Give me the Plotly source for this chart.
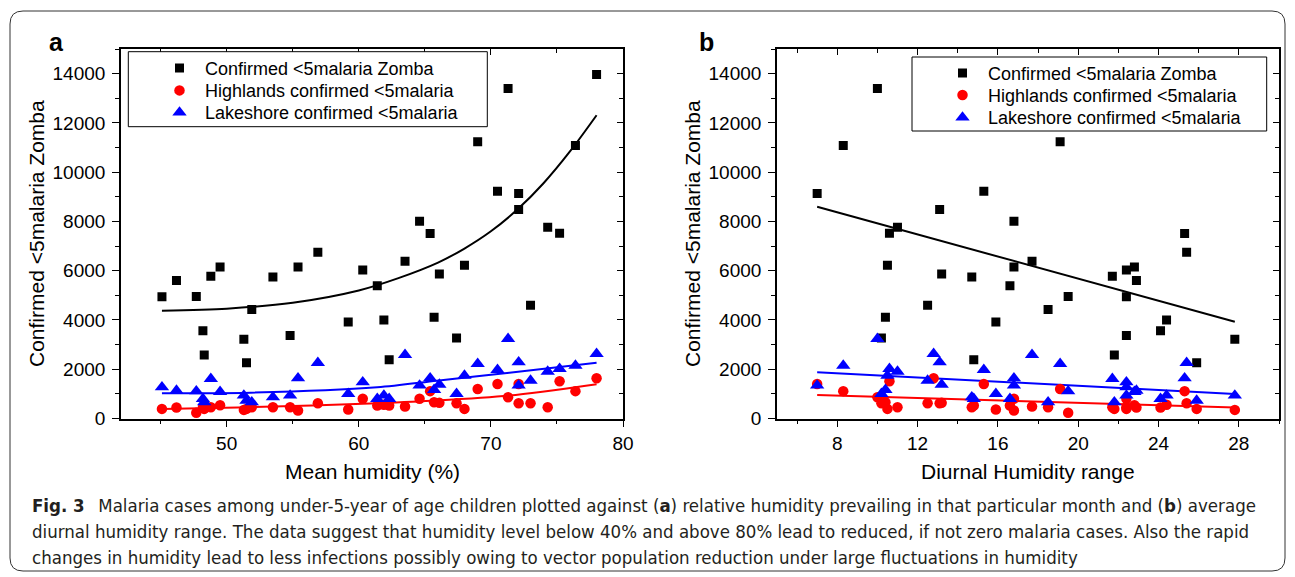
import plotly.graph_objects as go

W, H = 1295, 577

# ---------------- data ----------------
mean_humidity = [45.1, 46.2, 47.7, 48.2, 48.3, 48.8, 49.5, 51.3, 51.5, 51.9, 53.5, 54.8,
                 55.4, 56.9, 59.2, 60.3, 61.4, 61.9, 62.3, 63.5, 64.6, 65.4, 65.7, 66.1,
                 67.4, 68.0, 69.0, 70.5, 71.3, 72.1, 72.1, 73.0, 74.3, 75.2, 76.4, 78.0]
diurnal_range = [22.4, 22.9, 19.5, 24.1, 21.8, 21.7, 22.8, 27.8, 25.9, 18.5, 14.7, 22.4,
                 16.8, 25.4, 15.9, 22.4, 16.6, 24.4, 14.8, 17.7, 16.8, 25.3, 10.4, 13.2,
                 10.2, 10.5, 19.1, 15.3, 10.0, 7.0, 13.1, 12.5, 11.0, 10.6, 8.3, 12.8]
zomba = [4940, 5600, 4950, 3560, 2580, 5775, 6155, 3220, 2260, 4420, 5740, 3370,
         6155, 6750, 3920, 6030, 5385, 4000, 2380, 6385, 8010, 7510, 4110, 5870,
         3270, 6220, 11230, 9225, 13400, 9130, 8480, 4600, 7765, 7520, 11080, 13960]
highlands = [390, 445, 230, 450, 390, 460, 540, 350, 390, 460, 460, 460,
             325, 620, 365, 800, 530, 560, 530, 485, 800, 1110, 660, 635,
             620, 390, 1200, 1400, 865, 1400, 620, 620, 460, 1510, 1110, 1635]
lakeshore = [1270, 1135, 1110, 800, 660, 1610, 1085, 935, 730, 660, 865, 935,
             1635, 2260, 1000, 1475, 800, 935, 800, 2585, 1340, 1635, 1165, 1380,
             1000, 1745, 2220, 1975, 3235, 1340, 2285, 1540, 1905, 2015, 2150, 2625]

# fitted curves, panel a
fit_a_x = [45.1, 50, 55, 60, 63, 66, 68, 70, 72, 74, 76, 78]
fit_a_zomba = [4375, 4460, 4700, 5200, 5700, 6330, 6900, 7600, 8480, 9560, 10850, 12310]
fit_a_x2 = [45.1, 51.8, 61.4, 65.9, 71.4, 78.0]
fit_a_highlands = [389, 458, 620, 726, 929, 1391]
fit_a_lakeshore = [1026, 1050, 1269, 1537, 1861, 2267]
# fitted lines, panel b
fit_b_x = [7.0, 27.8]
fit_b_zomba = [8593, 3929]
fit_b_highlands = [957, 442]
fit_b_lakeshore = [1878, 998]

names = ["Confirmed &lt;5malaria Zomba", "Highlands confirmed &lt;5malaria",
         "Lakeshore confirmed &lt;5malaria"]
y_ticks = list(range(0, 14001, 2000))

# ---------------- helpers ----------------
def fx(p):
    return p / W

def fy(p):
    return 1 - p / H

FONT = "Liberation Sans, Arial, sans-serif"
BLACK, RED, BLUE = "#000000", "#ff0000", "#0000ff"

fig = go.Figure()

series = [(zomba, BLACK, "square", 9), (highlands, RED, "circle", 10.5), (lakeshore, BLUE, "triangle-up", 12.5)]
fits_a = [(fit_a_x, fit_a_zomba, BLACK), (fit_a_x2, fit_a_highlands, RED), (fit_a_x2, fit_a_lakeshore, BLUE)]
fits_b = [(fit_b_x, fit_b_zomba, BLACK), (fit_b_x, fit_b_highlands, RED), (fit_b_x, fit_b_lakeshore, BLUE)]

for (fxs, fys, col) in fits_a:
    fig.add_trace(go.Scatter(x=fxs, y=fys, mode="lines", line=dict(color=col, width=2, shape="spline", smoothing=0.8),
                             showlegend=False, hoverinfo="skip", xaxis="x", yaxis="y"))
for (fxs, fys, col) in fits_b:
    fig.add_trace(go.Scatter(x=fxs, y=fys, mode="lines", line=dict(color=col, width=2),
                             showlegend=False, hoverinfo="skip", xaxis="x2", yaxis="y2"))

legends_a = ["legend", "legend3", "legend4"]
legends_b = ["legend2", "legend5", "legend6"]
for (vals, col, sym, sz), nm, lg in zip(series, names, legends_a):
    fig.add_trace(go.Scatter(x=mean_humidity, y=vals, mode="markers", name=nm,
                             marker=dict(color=col, symbol=sym, size=sz, line=dict(width=0)),
                             xaxis="x", yaxis="y", legend=lg))
for (vals, col, sym, sz), nm, lg in zip(series, names, legends_b):
    fig.add_trace(go.Scatter(x=diurnal_range, y=vals, mode="markers", name=nm,
                             marker=dict(color=col, symbol=sym, size=sz, line=dict(width=0)),
                             xaxis="x2", yaxis="y2", legend=lg))

# dummy traces for the overlay (inner tick) axes
fig.add_trace(go.Scatter(x=[None], y=[None], xaxis="x3", yaxis="y3", showlegend=False, hoverinfo="skip"))
fig.add_trace(go.Scatter(x=[None], y=[None], xaxis="x4", yaxis="y4", showlegend=False, hoverinfo="skip"))

dom_a = [fx(121), fx(623)]
dom_b = [fx(777), fx(1279)]
dom_y = [fy(418.5), fy(49)]
xr_a = [42, 80]
xr_b = [5, 30]
yr = [0, 15000]

tickfont = dict(family=FONT, size=19, color="black")

def main_x(dom, rng, dtick, mdtick, anchor):
    return dict(domain=dom, range=rng, anchor=anchor, showgrid=False, zeroline=False,
                showline=True, linecolor="black", linewidth=1.6, mirror=True,
                ticks="outside", ticklen=7, tickwidth=1.3, tickcolor="black",
                tick0=0, dtick=dtick, tickfont=tickfont, ticklabelstandoff=0,
                minor=dict(ticks="outside", ticklen=4, tickwidth=1.3, tickcolor="black", tick0=0, dtick=mdtick))

def main_y(anchor):
    return dict(domain=dom_y, range=yr, anchor=anchor, showgrid=False, zeroline=False,
                showline=True, linecolor="black", linewidth=1.6, mirror=True,
                ticks="outside", ticklen=7, tickwidth=1.3, tickcolor="black",
                tickvals=y_ticks, ticktext=[str(v) for v in y_ticks], tickfont=tickfont,
                ticklabelstandoff=3,
                minor=dict(ticks="outside", ticklen=4, tickwidth=1.3, tickcolor="black", tick0=0, dtick=1000))

def over_x(base, rng, dtick, mdtick, anchor):
    return dict(overlaying=base, side="top", anchor=anchor, range=rng, showgrid=False, zeroline=False,
                showline=False, showticklabels=False, ticks="inside", ticklen=6, tickwidth=1.3,
                tickcolor="black", tick0=0, dtick=dtick,
                minor=dict(ticks="inside", ticklen=4, tickwidth=1.3, tickcolor="black", tick0=0, dtick=mdtick))

def over_y(base, anchor):
    return dict(overlaying=base, side="right", anchor=anchor, range=yr, showgrid=False, zeroline=False,
                showline=False, showticklabels=False, ticks="inside", ticklen=6, tickwidth=1.3,
                tickcolor="black", tickvals=y_ticks,
                minor=dict(ticks="inside", ticklen=4, tickwidth=1.3, tickcolor="black", tick0=0, dtick=1000))

def legend_at(xp, yp):
    return dict(bgcolor="rgba(0,0,0,0)", borderwidth=0, font=dict(family=FONT, size=18, color="black"),
                xanchor="left", yanchor="middle", itemwidth=41, x=fx(xp), y=fy(yp))

def rrect(x0, y0, x1, y1, r):
    pts = []
    pts.append(f"M {fx(x0 + r)},{fy(y0)}")
    pts.append(f"L {fx(x1 - r)},{fy(y0)}")
    pts.append(f"Q {fx(x1)},{fy(y0)} {fx(x1)},{fy(y0 + r)}")
    pts.append(f"L {fx(x1)},{fy(y1 - r)}")
    pts.append(f"Q {fx(x1)},{fy(y1)} {fx(x1 - r)},{fy(y1)}")
    pts.append(f"L {fx(x0 + r)},{fy(y1)}")
    pts.append(f"Q {fx(x0)},{fy(y1)} {fx(x0)},{fy(y1 - r)}")
    pts.append(f"L {fx(x0)},{fy(y0 + r)}")
    pts.append(f"Q {fx(x0)},{fy(y0)} {fx(x0 + r)},{fy(y0)} Z")
    return " ".join(pts)

shapes = [
    dict(type="path", xref="paper", yref="paper", path=rrect(10, 11, 1285, 571, 13),
         line=dict(color="#333333", width=1), fillcolor="rgba(0,0,0,0)", layer="below"),
    dict(type="rect", xref="paper", yref="paper", x0=fx(128.3), x1=fx(487.3), y0=fy(126.7), y1=fy(51.7),
         line=dict(color="black", width=1), fillcolor="white", layer="above"),
    dict(type="rect", xref="paper", yref="paper", x0=fx(912), x1=fx(1266.7), y0=fy(131), y1=fy(57),
         line=dict(color="black", width=1), fillcolor="white", layer="above"),
]

title_font = dict(family=FONT, size=21, color="black")
cap_font = dict(family="DejaVu Sans Condensed, sans-serif", size=18.5, color="#231f20")

def note(text, xp, yp, font, **kw):
    d = dict(text=text, x=fx(xp), y=fy(yp), xref="paper", yref="paper", showarrow=False,
             xanchor="center", yanchor="middle", font=font)
    d.update(kw)
    return d

annotations = [
    note("<b>a</b>", 56, 42, dict(family=FONT, size=25, color="black")),
    note("<b>b</b>", 706, 42, dict(family=FONT, size=25, color="black")),
    note("Confirmed &lt;5malaria Zomba", 36, 234, title_font, textangle=-90),
    note("Confirmed &lt;5malaria Zomba", 692, 234, title_font, textangle=-90),
    note("Mean humidity (%)", 372, 471, title_font),
    note("Diurnal Humidity range", 1028, 471, title_font),
]
caption_lines = [
    "<b>Fig. 3</b>\u2002 Malaria cases among under-5-year of age children plotted against (<b>a</b>) relative humidity prevailing in that particular month and (<b>b</b>) average",
    "diurnal humidity range. The data suggest that humidity level below 40% and above 80% lead to reduced, if not zero malaria cases. Also the rapid",
    "changes in humidity lead to less infections possibly owing to vector population reduction under large fluctuations in humidity",
]
for i, line in enumerate(caption_lines):
    annotations.append(note(line, 30, 505 + 26 * i, cap_font, xanchor="left"))

fig.update_layout(
    width=W, height=H, margin=dict(l=0, r=0, t=0, b=0, autoexpand=False),
    paper_bgcolor="white", plot_bgcolor="white",
    font=dict(family=FONT, color="black"),
    xaxis=main_x(dom_a, xr_a, 10, 5, "y"),
    yaxis=main_y("x"),
    xaxis2=main_x(dom_b, xr_b, 4, 2, "y2"),
    yaxis2=main_y("x2"),
    xaxis3=over_x("x", xr_a, 10, 5, "y"),
    yaxis3=over_y("y", "x"),
    xaxis4=over_x("x2", xr_b, 4, 2, "y2"),
    yaxis4=over_y("y2", "x2"),
    legend=legend_at(154, 68.3),
    legend3=legend_at(154, 90.7),
    legend4=legend_at(154, 112.7),
    legend2=legend_at(937, 73.3),
    legend5=legend_at(937, 95.3),
    legend6=legend_at(937, 117.7),
    shapes=shapes,
    annotations=annotations,
    showlegend=True,
)

fig.write_html("out.html", config={"displayModeBar": False},
               post_script="document.body.style.margin='0';document.body.style.overflow='hidden';")
